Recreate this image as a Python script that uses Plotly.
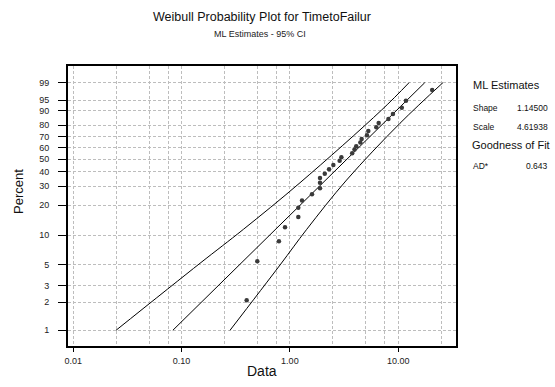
import numpy as np
import plotly.graph_objects as go

# ---- data ----
time_data = [0.399, 0.500, 0.792, 0.902, 1.196, 1.196, 1.294, 1.600, 1.897, 1.897,
             1.897, 2.10, 2.30, 2.52, 2.88, 2.99, 3.76, 3.95, 4.10, 4.47,
             4.60, 5.15, 5.30, 6.28, 6.61, 8.13, 8.95, 10.8, 11.8, 20.6]
pct_data = [2.09, 5.39, 8.68, 12.08, 15.28, 18.84, 22.07, 25.24, 28.70, 32.05,
            35.28, 38.30, 41.80, 45.15, 48.64, 51.62, 55.14, 58.48, 61.48, 64.94,
            68.08, 71.49, 75.14, 78.28, 81.68, 84.65, 88.01, 91.62, 94.75, 97.85]
fit_time = [0.083, 17.6]
fit_pct = [1, 99]
upper_time = [0.0248, 0.148, 0.372, 1.24, 7.04, 12.6]
upper_pct = [1, 5.14, 11.5, 32.1, 90.4, 99]
lower_time = [0.280, 0.811, 1.43, 3.34, 10.4, 25.9]
lower_pct = [1, 4.93, 11.5, 33.9, 81.5, 99]

y_ticks = [1, 2, 3, 5, 10, 20, 30, 40, 50, 60, 70, 80, 90, 95, 99]
x_ticks = [0.01, 0.1, 1, 10]
x_ticktext = ["0.01", "0.10", "1.00", "10.00"]
x_grid = [0.01, 0.025, 0.05, 0.075, 0.1, 0.25, 0.5, 0.75, 1, 2.5, 5, 7.5, 10, 25]

title = "Weibull Probability Plot for TimetoFailur"
subtitle = "ML Estimates - 95% CI"
stats = [("Shape", "1.14500"), ("Scale", "4.61938")]
gof = [("AD*", "0.643")]


def wscale(p):
    p = np.asarray(p, dtype=float) / 100.0
    return np.log(-np.log(1.0 - p))


FONT = "Liberation Sans, Arial, sans-serif"
GRID = "#bdbdbd"
DASH = "3px,2px"
fig = go.Figure()

fig.add_trace(go.Scatter(x=upper_time, y=wscale(upper_pct), mode="lines",
                         line=dict(color="black", width=1, shape="spline", smoothing=1.0),
                         hoverinfo="skip", showlegend=False))
fig.add_trace(go.Scatter(x=lower_time, y=wscale(lower_pct), mode="lines",
                         line=dict(color="black", width=1, shape="spline", smoothing=1.0),
                         hoverinfo="skip", showlegend=False))
fig.add_trace(go.Scatter(x=fit_time, y=wscale(fit_pct), mode="lines",
                         line=dict(color="black", width=1),
                         hoverinfo="skip", showlegend=False))
fig.add_trace(go.Scatter(x=time_data, y=wscale(pct_data), mode="markers",
                         marker=dict(color="#3a3a3a", size=4.5),
                         showlegend=False))

W, H = 555, 387
L, R, T, B = 68, 99, 66, 41
pw, ph = W - L - R, H - T - B


def px(x):
    return (x - L) / pw


def py(y):
    return (H - B - y) / ph


fig.update_layout(
    width=W, height=H,
    margin=dict(l=L, r=R, t=T, b=B),
    paper_bgcolor="white", plot_bgcolor="white",
    font=dict(family=FONT, color="black", size=9),
    xaxis=dict(type="log", range=[-2.049, 1.534],
               tickmode="array", tickvals=x_ticks, ticktext=x_ticktext,
               ticks="outside", ticklen=4, tickcolor="black", tickwidth=1,
               ticklabelstandoff=1,
               showgrid=False, zeroline=False,
               showline=True, linecolor="black", linewidth=2, mirror=True,
               tickfont=dict(size=9, color="#222"),
               minor=dict(tickmode="array", tickvals=x_grid, showgrid=True,
                          gridcolor=GRID, griddash=DASH, gridwidth=1, ticks="")),
    yaxis=dict(range=[-4.989, 1.940],
               tickmode="array", tickvals=list(wscale(y_ticks)),
               ticktext=[str(v) for v in y_ticks],
               ticks="outside", ticklen=8, tickcolor="black", tickwidth=1,
               ticklabelstandoff=7,
               showgrid=True, gridcolor=GRID, griddash=DASH, gridwidth=1,
               zeroline=False,
               showline=True, linecolor="black", linewidth=2, mirror=True,
               tickfont=dict(size=9, color="#222")),
)

ann = []
ann.append(dict(text=title, x=px(262), y=py(17), xref="paper", yref="paper",
                showarrow=False, xanchor="center", yanchor="middle",
                font=dict(size=12.5, color="#111")))
ann.append(dict(text=subtitle, x=px(260), y=py(34), xref="paper", yref="paper",
                showarrow=False, xanchor="center", yanchor="middle",
                font=dict(size=9, color="#222")))
ann.append(dict(text="Percent", x=px(18), y=py(192), xref="paper", yref="paper",
                showarrow=False, textangle=-90, xanchor="center", yanchor="middle",
                font=dict(size=13, color="#111")))
ann.append(dict(text="Data", x=px(262), y=py(371), xref="paper", yref="paper",
                showarrow=False, xanchor="center", yanchor="middle",
                font=dict(size=14, color="#111")))
ann.append(dict(text="ML Estimates", x=px(471), y=py(85), xref="paper", yref="paper",
                showarrow=False, xanchor="left", yanchor="middle",
                font=dict(size=11, color="#111")))
for i, (k, v) in enumerate(stats):
    yy = 107.5 + i * 19
    ann.append(dict(text=k, x=px(471), y=py(yy), xref="paper", yref="paper",
                    showarrow=False, xanchor="left", yanchor="middle",
                    font=dict(size=8.5, color="#111")))
    ann.append(dict(text=v, x=px(550), y=py(yy), xref="paper", yref="paper",
                    showarrow=False, xanchor="right", yanchor="middle",
                    font=dict(size=8.5, color="#111")))
ann.append(dict(text="Goodness of Fit", x=px(470), y=py(145), xref="paper", yref="paper",
                showarrow=False, xanchor="left", yanchor="middle",
                font=dict(size=11, color="#111")))
for k, v in gof:
    ann.append(dict(text=k, x=px(471), y=py(166), xref="paper", yref="paper",
                    showarrow=False, xanchor="left", yanchor="middle",
                    font=dict(size=8.5, color="#111")))
    ann.append(dict(text=v, x=px(550), y=py(166), xref="paper", yref="paper",
                    showarrow=False, xanchor="right", yanchor="middle",
                    font=dict(size=8.5, color="#111")))
fig.update_layout(annotations=ann)

fig.write_html("out.html")
